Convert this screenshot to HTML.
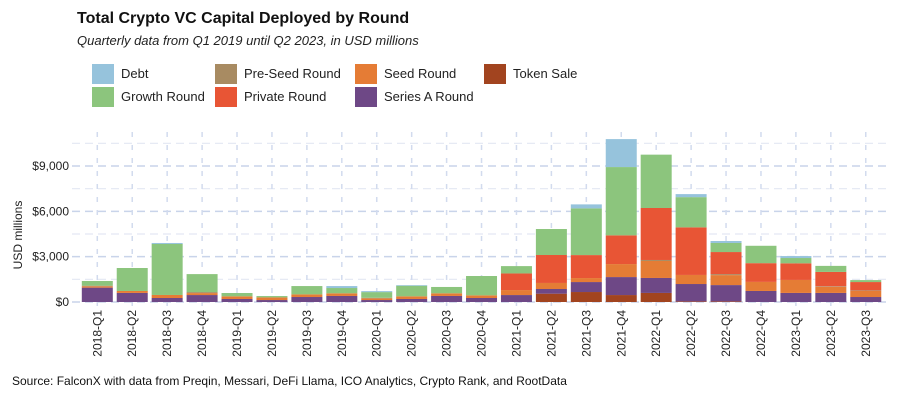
<!DOCTYPE html>
<html><head><meta charset="utf-8"><style>
body{margin:0;background:#fff;font-family:"Liberation Sans",sans-serif;}
#wrap{position:relative;width:900px;height:400px;overflow:hidden;}
.t{position:absolute;white-space:nowrap;}
.leg{position:absolute;font-size:13px;color:#222;}
.sw{position:absolute;width:22px;height:20px;}
</style></head><body>
<div id="wrap">
<div class="t" style="left:77px;top:10px;font-size:16px;font-weight:bold;color:#111;">Total Crypto VC Capital Deployed by Round</div>
<div class="t" style="left:77px;top:33px;font-size:13px;font-style:italic;color:#222;">Quarterly data from Q1 2019 until Q2 2023, in USD millions</div>
<div id="legend"></div>
<svg id="svg" width="900" height="400" style="position:absolute;left:0;top:0"></svg>
<div class="t" style="left:12px;top:374px;font-size:12px;color:#111;">Source: FalconX with data from Preqin, Messari, DeFi Llama, ICO Analytics, Crypto Rank, and RootData</div>
</div>
<script>
const categories=["2018-Q1","2018-Q2","2018-Q3","2018-Q4","2019-Q1","2019-Q2","2019-Q3","2019-Q4","2020-Q1","2020-Q2","2020-Q3","2020-Q4","2021-Q1","2021-Q2","2021-Q3","2021-Q4","2022-Q1","2022-Q2","2022-Q3","2022-Q4","2023-Q1","2023-Q2","2023-Q3"];
const tokenSale=[0,0,0,0,0,0,0,0,0,0,0,0,0,550,660,460,600,40,40,0,0,0,0];
const seriesA=[950,600,265,460,200,130,330,400,130,200,400,265,460,310,660,1190,990,1150,1080,730,600,600,330];
const seed=[90,130,200,130,175,175,175,175,110,175,175,175,330,400,265,860,1125,600,660,600,860,400,400];
const preSeed=[40,0,0,66,0,0,0,0,40,0,0,0,0,0,0,0,66,0,66,0,0,40,40];
const privateRound=[0,0,0,0,0,0,0,0,0,0,0,0,1100,1850,1520,1900,3440,3150,1460,1240,1100,950,550];
const growth=[310,1520,3375,1190,220,88,550,350,375,700,420,1280,485,1720,3090,4520,3530,2000,600,1150,350,400,130];
const debt=[0,0,66,0,0,0,0,130,66,44,0,0,0,0,265,1850,0,200,130,0,130,0,0];
const yTicks=[0,3000,6000,9000];
const yTickLabels=["$0","$3,000","$6,000","$9,000"];

const series=[
 {name:"Token Sale",vals:tokenSale,color:"#a2441f"},
 {name:"Series A Round",vals:seriesA,color:"#6e4886"},
 {name:"Seed Round",vals:seed,color:"#e57c35"},
 {name:"Pre-Seed Round",vals:preSeed,color:"#a88b62"},
 {name:"Private Round",vals:privateRound,color:"#e85535"},
 {name:"Growth Round",vals:growth,color:"#8cc57d"},
 {name:"Debt",vals:debt,color:"#96c3dc"}];

const NS="http://www.w3.org/2000/svg";
const svg=document.getElementById('svg');
const y0=302, pxPer=136/9000;
const yS=v=>y0-v*pxPer;
const x0=97.3, step=34.93, bw=31;
const xS=i=>x0+i*step;
function mk(tag,attrs){const e=document.createElementNS(NS,tag);for(const k in attrs)e.setAttribute(k,attrs[k]);svg.appendChild(e);return e;}
// grid
for(let v=0;v<=10500;v+=1500){
 const major=v%3000===0;
 const l=mk('line',{x1:72,x2:886,y1:yS(v),y2:yS(v),stroke:major?"#c9d4ea":"#e3e8f3","stroke-width":major?1.5:1.2,"stroke-dasharray":"8,5"});
 
 
}
categories.forEach((c,i)=>{
 const l=mk('line',{x1:xS(i),x2:xS(i),y1:132,y2:310,stroke:"#d2dbee","stroke-width":1.5,"stroke-dasharray":"5,8"});
 
 
});
// bars
categories.forEach((c,i)=>{
 let acc=0;
 series.forEach(s=>{
  const v=s.vals[i]; if(v<=0)return;
  const r=mk('rect',{x:xS(i)-bw/2,y:yS(acc+v),width:bw,height:v*pxPer,fill:s.color});
  
  
  acc+=v;
 });
 const t=mk('text',{x:0,y:0,"font-size":12,fill:"#222","text-anchor":"end",transform:`translate(${xS(i)+4},310) rotate(-90)`});
 t.textContent=c;
 
 
});
yTicks.forEach((v,i)=>{
 const t=mk('text',{x:69,y:yS(v)+4,"font-size":12,fill:"#222","text-anchor":"end"});
 t.textContent=yTickLabels[i];
 
 
});
const yt=mk('text',{x:0,y:0,"font-size":12,fill:"#222","text-anchor":"middle",transform:"translate(22,235) rotate(-90)"});
yt.textContent="USD millions";


// legend
const legItems=[["Debt","#96c3dc",92,64],["Pre-Seed Round","#a88b62",215,64],["Seed Round","#e57c35",355,64],["Token Sale","#a2441f",484,64],
 ["Growth Round","#8cc57d",92,87],["Private Round","#e85535",215,87],["Series A Round","#6e4886",355,87]];
const lg=document.getElementById('legend');
legItems.forEach(([n,c,x,y])=>{
 const sw=document.createElement('div');sw.className='sw';sw.style.left=x+'px';sw.style.top=y+'px';sw.style.background=c;
 
 
 lg.appendChild(sw);
 const t=document.createElement('div');t.className='leg';t.style.left=(x+29)+'px';t.style.top=(y+2)+'px';t.textContent=n;
 
 
 lg.appendChild(t);
});
</script>
</body></html>
